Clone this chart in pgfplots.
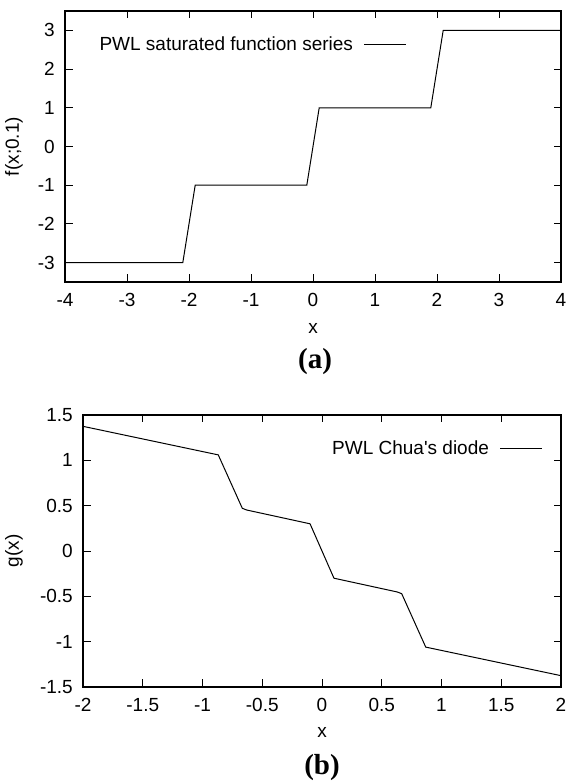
\documentclass[border=0pt]{standalone}
\usepackage{fontspec}
\setmainfont{Liberation Sans}
\newfontfamily\capfont{Liberation Serif}
\usepackage{pgfplots}
\pgfplotsset{compat=1.18}
\pgfplotsset{
 common/.style={
  scale only axis, anchor=south west,
  /pgf/number format/assume math mode=true,
  tick align=inside, major tick length=7.5pt,
  every tick/.style={black, line width=0.9pt},
  axis line style={line width=1.3pt},
  tick label style={font=\fontsize{19}{22}\selectfont, inner sep=0pt},
  xticklabel style={anchor=north, yshift=-11pt},
  yticklabel style={anchor=east, xshift=-10pt},
  label style={font=\fontsize{19}{22}\selectfont},
  legend plot pos=right,
  legend cell align=right,
  legend style={draw=none, fill=none, anchor=east, inner sep=0pt, outer sep=0pt,
    font=\fontsize{19}{22}\selectfont, nodes={inner sep=0pt}},
  legend image code/.code={\path (0pt,0pt); \draw[##1] (11pt,0pt) -- (53pt,0pt);},
 }
}
\pgfplotstableread{
x y
-4 -3
-2.1 -3
-1.9 -1
-0.1 -1
0.1 1
1.9 1
2.1 3
4 3
}\tablea
\pgfplotstableread{
x y
-2 1.375
-0.868 1.060
-0.667 0.471
-0.630 0.452
-0.100 0.300
0.100 -0.300
0.630 -0.452
0.667 -0.471
0.868 -1.060
2 -1.375
}\tableb
\begin{document}
\begin{tikzpicture}
\path[use as bounding box] (0pt,0pt) rectangle (569pt,781pt);
\begin{axis}[common,
  at={(65pt,499pt)}, width=496pt, height=271pt,
  xmin=-4, xmax=4, ymin=-3.5, ymax=3.5,
  xtick={-4,-3,-2,-1,0,1,2,3,4}, ytick={-3,-2,-1,0,1,2,3},
  xlabel={x}, ylabel={f(x;0.1)},
  xlabel style={at={(axis description cs:0.5,-0.173)}, anchor=center},
  ylabel style={at={(axis description cs:-0.1028,0.5)}, anchor=center},
  legend style={at={(0.6895,0.878)}},
]
\addplot[black, line width=1pt] table[x=x,y=y] {\tablea};
\addlegendentry{PWL saturated function series}
\end{axis}
\node[font=\capfont\bfseries\fontsize{29}{32}\selectfont, inner sep=0pt] at (315pt,419pt) {(a)};
\begin{axis}[common,
  at={(83pt,94pt)}, width=478pt, height=272pt,
  xmin=-2, xmax=2, ymin=-1.5, ymax=1.5,
  xtick={-2,-1.5,-1,-0.5,0,0.5,1,1.5,2}, ytick={-1.5,-1,-0.5,0,0.5,1,1.5},
  xlabel={x}, ylabel={g(x)},
  xlabel style={at={(axis description cs:0.5,-0.169)}, anchor=center},
  ylabel style={at={(axis description cs:-0.1444,0.5)}, anchor=center},
  legend style={at={(0.9623,0.877)}},
]
\addplot[black, line width=1pt] table[x=x,y=y] {\tableb};
\addlegendentry{PWL Chua\textquotesingle s diode}
\end{axis}
\node[font=\capfont\bfseries\fontsize{29}{32}\selectfont, inner sep=0pt] at (322pt,13pt) {(b)};
\end{tikzpicture}
\end{document}
